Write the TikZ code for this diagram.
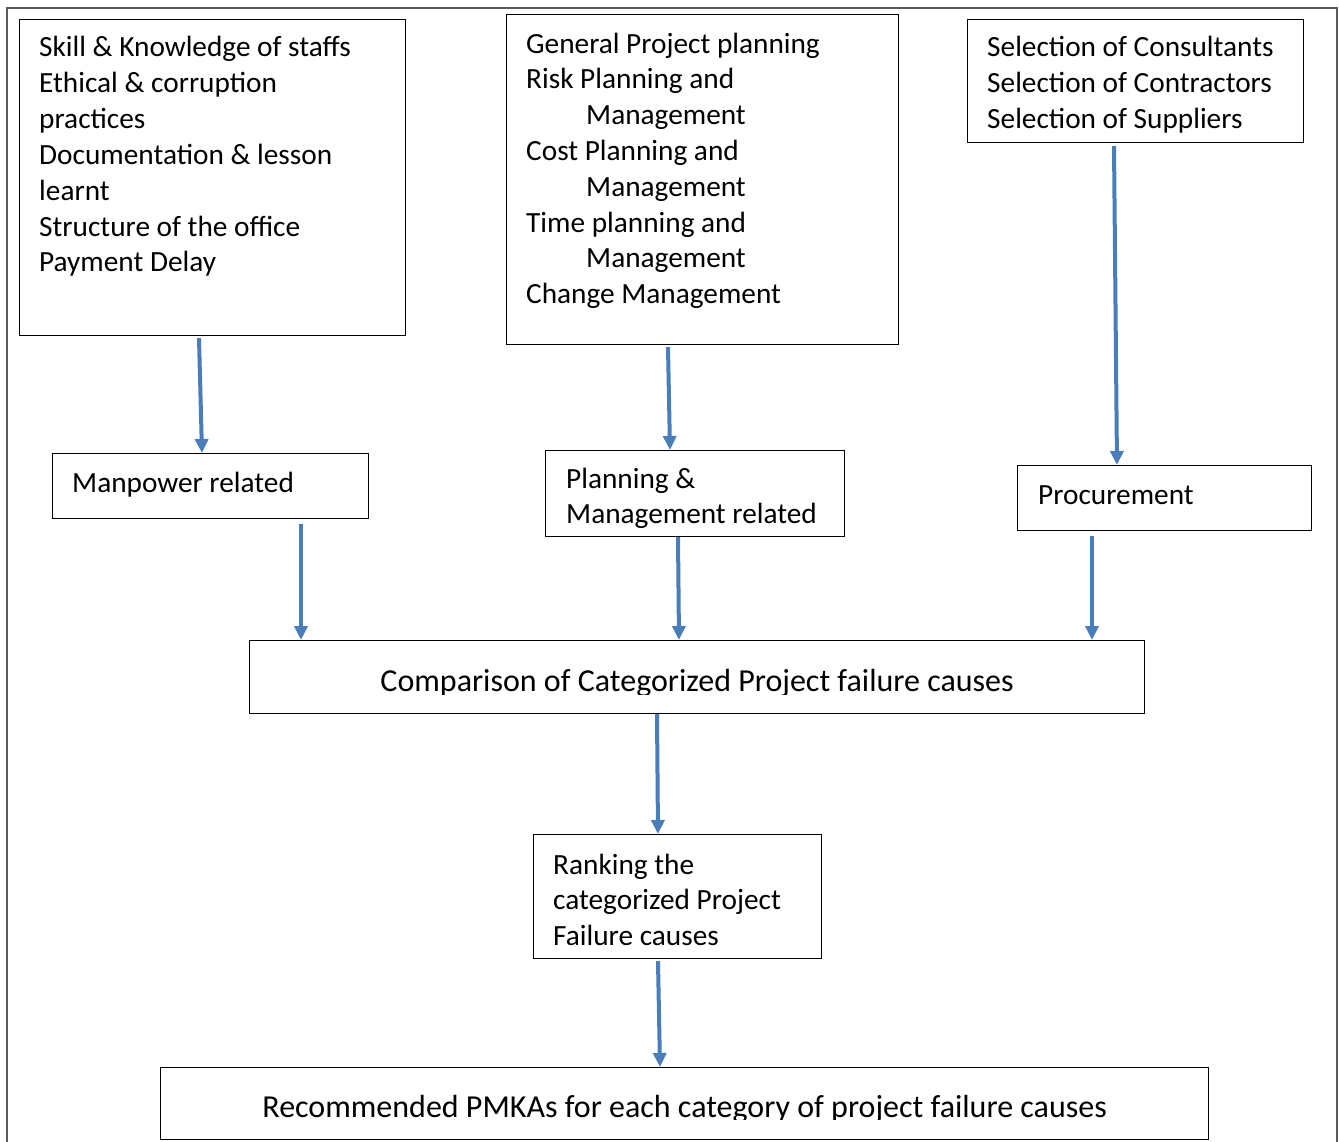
\documentclass[tikz,border=0pt]{standalone}
\usepackage{fontspec}
\setmainfont{Carlito}
\usepackage{tikz}
\usetikzlibrary{arrows.meta, positioning}
\definecolor{flowblue}{RGB}{74,126,187}
\definecolor{framegray}{RGB}{89,89,89}
\tikzset{
  box/.style={draw=black, line width=1.2pt, rectangle, anchor=north west, inner sep=0pt},
  txt/.style={font=\fontsize{29.3}{35.8}\selectfont, inner sep=0pt, align=left, anchor=base west},
  bigtxt/.style={txt, font=\fontsize{32}{38}\selectfont, anchor=base},
  flow/.style={draw=flowblue, line width=4pt, -{Triangle[width=13pt,length=14pt]}}
}

\begin{document}
\begin{tikzpicture}[x=1pt, y=-1pt]
    \useasboundingbox (0,0) rectangle (1339,1142);
    % outer frame
    \draw[framegray, line width=2.5pt] (7,1142) -- (7,8) -- (1337,8) -- (1337,1142);

    % cause boxes (text nodes sit on the baseline of their last line)
    \node[box, minimum width=386pt, minimum height=316pt] (skills) at (19,19) {};
    \node[box, minimum width=392pt, minimum height=330pt] (planning) at (506,14) {};
    \node[box, minimum width=336pt, minimum height=123pt] (selection) at (967,19) {};
    \node[txt] (skillstxt) at (39,271.8) {Skill \& Knowledge of staffs\\Ethical \& corruption\\practices\\Documentation \& lesson\\learnt\\Structure of the office\\Payment Delay};
    \node[txt] (planningtxt) at (526,303.6) {General Project planning\\Risk Planning and\\\hspace*{60pt}Management\\Cost Planning and\\\hspace*{60pt}Management\\Time planning and\\\hspace*{60pt}Management\\Change Management};
    \node[txt] (selectiontxt) at (987,128.6) {Selection of Consultants\\Selection of Contractors\\Selection of Suppliers};

    % categories
    \node[box, minimum width=316pt, minimum height=65pt] (manpower) at (52,453) {};
    \node[box, minimum width=299pt, minimum height=86pt] (plan) at (545,450) {};
    \node[box, minimum width=294pt, minimum height=65pt] (procure) at (1017,465) {};
    \node[txt] (manpowertxt) at (72,492) {Manpower related};
    \begin{scope}
      \clip (plan.north west) rectangle ([yshift=10pt]plan.south east);
      \node[txt] (plantxt) at (566,523.8) {Planning \&\\Management related};
    \end{scope}
    \node[txt] (procuretxt) at (1038,504) {Procurement};

    % comparison, ranking, recommendation
    \node[box, minimum width=895pt, minimum height=73pt] (compare) at (249,640) {};
    \begin{scope}
      \clip (compare.north west) rectangle ([yshift=20pt]compare.south east);
      \node[bigtxt] (comparetxt) at ([yshift=-51pt]compare.north) {Comparison of Categorized Project failure causes};
    \end{scope}
    \node[box, minimum width=288pt, minimum height=124pt] (rank) at (533,834) {};
    \node[txt] (ranktxt) at (553,945.6) {Ranking the\\categorized Project\\Failure causes};
    \node[box, minimum width=1048pt, minimum height=72pt] (recommend) at (160,1067) {};
    \begin{scope}
      \clip (recommend.north west) rectangle ([yshift=21pt]recommend.south east);
      \node[bigtxt] (recommendtxt) at ([yshift=-50pt]recommend.north) {Recommended PMKAs for each category of project failure causes};
    \end{scope}

    % arrows
    \draw[flow] ([xshift=180pt,yshift=-2pt]skills.south west) -- ([xshift=150pt]manpower.north west);
    \draw[flow] ([xshift=162pt,yshift=-2pt]planning.south west) -- ([xshift=125pt]plan.north west);
    \draw[flow] ([xshift=147pt,yshift=-3pt]selection.south west) -- ([xshift=100pt]procure.north west);
    \draw[flow] ([xshift=249pt,yshift=-5pt]manpower.south west) -- ([xshift=52pt]compare.north west);
    \draw[flow] ([xshift=133pt]plan.south west) -- ([xshift=430pt]compare.north west);
    \draw[flow] ([xshift=75pt,yshift=-5pt]procure.south west) -- ([xshift=843pt]compare.north west);
    \draw[flow] ([xshift=408pt]compare.south west) -- ([xshift=125pt]rank.north west);
    \draw[flow] ([xshift=125pt,yshift=-2pt]rank.south west) -- ([xshift=500pt]recommend.north west);
\end{tikzpicture}
\end{document}
